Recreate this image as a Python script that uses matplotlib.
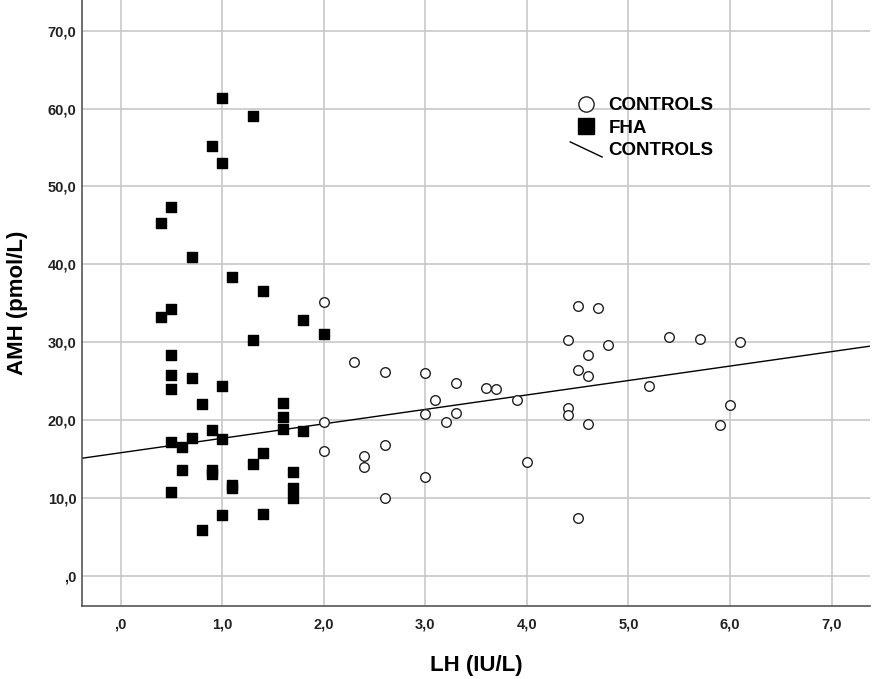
import numpy as np
import matplotlib
matplotlib.use("Agg")
import matplotlib.pyplot as plt
from matplotlib.lines import Line2D
from matplotlib.legend_handler import HandlerBase

plt.rcParams['font.family'] = ['Liberation Sans', 'DejaVu Sans']

# FHA group (squares)
fha_lh = [1.0, 1.3, 0.9, 1.0, 0.5, 0.4, 0.7, 1.1, 1.4,
          0.5, 0.4, 1.8, 2.0, 1.3, 0.5, 0.5, 0.7, 0.5, 1.0,
          0.8, 1.6, 1.6, 1.6, 1.8, 0.9, 1.0, 0.5, 0.7, 0.6,
          1.4, 1.3, 0.6, 0.9, 0.9, 1.7, 1.1, 1.1, 1.7, 1.7,
          0.5, 1.0, 1.4, 0.8]
fha_amh = [61.3, 59.1, 55.2, 53.0, 47.3, 45.3, 40.9, 38.3, 36.6,
           34.3, 33.2, 32.9, 31.0, 30.3, 28.4, 25.8, 25.4, 24.0, 24.4,
           22.0, 22.2, 20.4, 18.8, 18.6, 18.7, 17.5, 17.2, 17.7, 16.5,
           15.7, 14.4, 13.6, 13.6, 13.1, 13.3, 11.7, 11.2, 11.2, 10.0,
           10.8, 7.8, 7.9, 5.8]

# Controls (circles)
ctl_lh = [2.0, 2.3, 2.6, 3.0, 3.3, 3.6, 3.7, 3.9, 3.1, 3.0, 3.3, 3.2,
          2.0, 2.0, 2.6, 2.4, 2.4, 3.0, 2.6, 4.0, 4.5, 4.5, 4.7, 4.4,
          4.6, 4.5, 4.6, 4.4, 4.4, 4.6, 4.8, 5.4, 5.7, 6.1, 5.2, 6.0, 5.9]
ctl_amh = [35.1, 27.4, 26.2, 26.0, 24.7, 24.1, 24.0, 22.6, 22.5, 20.8, 20.9, 19.7,
           19.7, 16.0, 16.8, 15.4, 13.9, 12.7, 10.0, 14.6, 7.4, 34.7, 34.4, 30.3,
           28.3, 26.4, 25.7, 21.5, 20.6, 19.5, 29.6, 30.7, 30.4, 30.0, 24.4, 21.9, 19.3]

xticks = [0, 1, 2, 3, 4, 5, 6, 7]
xlabels = [',0', '1,0', '2,0', '3,0', '4,0', '5,0', '6,0', '7,0']
yticks = [0, 10, 20, 30, 40, 50, 60, 70]
ylabels = [',0', '10,0', '20,0', '30,0', '40,0', '50,0', '60,0', '70,0']


class DiagLine(HandlerBase):
    # slanted line in the legend, like the SPSS fit-line key
    def create_artists(self, legend, orig_handle, xdescent, ydescent,
                       width, height, fontsize, trans):
        x0, x1 = -xdescent, -xdescent + width
        y0, y1 = -ydescent + height * 1.0, -ydescent - height * 0.15
        ln = Line2D([x0, x1], [y0, y1], color='black', linewidth=1.0,
                    transform=trans)
        return [ln]


fig = plt.figure(figsize=(8.72, 6.79), dpi=100)
ax = fig.add_axes([0.094, 0.1075, 0.904, 0.892])

ax.set_xlim(-0.38, 7.38)
ax.set_ylim(-3.9, 73.9)

ax.grid(True, color='#c8c8c8', linewidth=1.2)
ax.set_axisbelow(True)

# fit line for controls
slope, icpt = np.polyfit(ctl_lh, ctl_amh, 1)
xs = np.array([-0.38, 7.38])
fit, = ax.plot(xs, icpt + slope * xs, color='black', linewidth=1.0, zorder=2)

ax.scatter(fha_lh, fha_amh, marker='s', s=62, color='black', zorder=3)
ax.scatter(ctl_lh, ctl_amh, marker='o', s=48, facecolor='white',
           edgecolor='#222222', linewidth=1.0, zorder=3)

ax.set_xticks(xticks)
ax.set_xticklabels(xlabels)
ax.set_yticks(yticks)
ax.set_yticklabels(ylabels)
ax.tick_params(length=0, labelsize=10.5)
ax.tick_params(axis='x', pad=8)
ax.tick_params(axis='y', pad=4)
for lab in ax.get_xticklabels() + ax.get_yticklabels():
    lab.set_fontweight('bold')
    lab.set_color('#222222')

for s in ['top', 'right']:
    ax.spines[s].set_visible(False)
for s in ['left', 'bottom']:
    ax.spines[s].set_color('#555555')
    ax.spines[s].set_linewidth(1.2)

ax.set_xlabel('LH (IU/L)', fontsize=16, fontweight='bold', labelpad=17)
ax.set_ylabel('AMH (pmol/L)', fontsize=16, fontweight='bold', labelpad=14)

handles = [
    Line2D([], [], marker='o', linestyle='', markersize=11, markerfacecolor='white',
           markeredgecolor='#222222', markeredgewidth=1.0),
    Line2D([], [], marker='s', linestyle='', markersize=11, color='black'),
    fit,
]
leg = ax.legend(handles, ['CONTROLS', 'FHA', 'CONTROLS'], frameon=False,
                loc='upper left', bbox_to_anchor=(0.598, 0.868),
                handlelength=1.7, handletextpad=0.35, labelspacing=0.28,
                handler_map={fit: DiagLine()},
                prop={'weight': 'bold', 'size': 13.5})

fig.savefig('out.png', dpi=100)
